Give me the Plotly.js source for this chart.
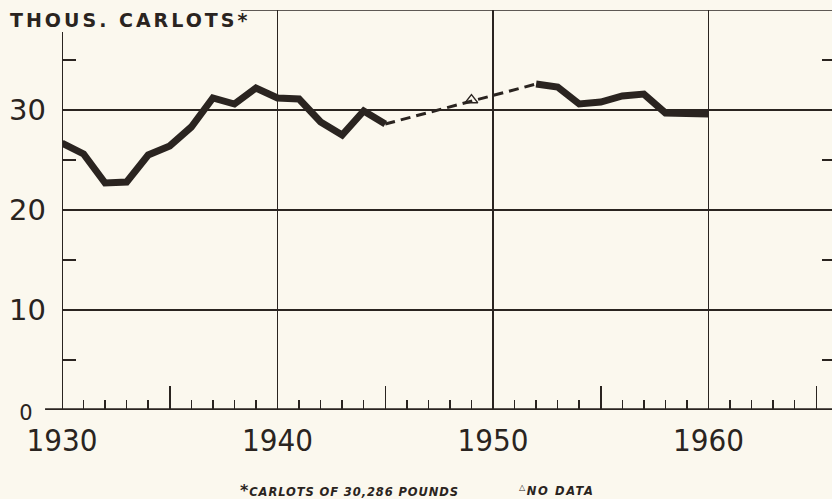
<!DOCTYPE html>
<html>
<head>
<meta charset="utf-8">
<script src="https://cdn.plot.ly/plotly-3.0.1.min.js"></script>
<style>
html,body{margin:0;padding:0;background:#fbf8ee;}
#chart{width:832px;height:499px;}
</style>
</head>
<body>
<div id="chart"></div>
<script>
// Data (thousand carlots)
const years1 = [1930,1931,1932,1933,1934,1935,1936,1937,1938,1939,1940,1941,1942,1943,1944,1945];
const values1 = [26.7,25.6,22.7,22.8,25.5,26.4,28.3,31.2,30.6,32.2,31.2,31.1,28.8,27.5,29.9,28.6];
const years2 = [1952,1953,1954,1955,1956,1957,1958,1959,1960];
const values2 = [32.6,32.3,30.6,30.8,31.4,31.6,29.7,29.6,29.6];
const gapYears = [1945,1952];
const gapValues = [28.6,32.6];
const noDataYear = [1949];
const noDataValue = [31.0];

const xTickVals = [1930,1935,1940,1945,1950,1955,1960,1965];
const xTickText = ['1930','','1940','','1950','','1960',''];
const xGridVals = [1940,1950,1960];
const yTickVals = [0,10,20,30];
const yTickText = ['<span style="font-size:21px">0&nbsp;&nbsp;</span>','10','20','30'];
const yMinorVals = [5,15,25,35];

const ink = '#2a2420';
const bg = '#fbf8ee';
const xRange = [1930,1965.73];
const yRange = [0,40];

const traces = [
  {x: years1, y: values1, mode:'lines', line:{color:ink, width:7}, xaxis:'x', yaxis:'y'},
  {x: years2, y: values2, mode:'lines', line:{color:ink, width:7}, xaxis:'x', yaxis:'y'},
  {x: gapYears, y: gapValues, mode:'lines', line:{color:ink, width:3, dash:'10px,6px'}, xaxis:'x', yaxis:'y'},
  {x: noDataYear, y: noDataValue, mode:'markers', marker:{symbol:'triangle-up-open', size:11, color:ink, line:{width:1.3, color:ink}}, xaxis:'x2', yaxis:'y2'}
];

const layout = {
  width:832, height:499,
  margin:{l:62, r:0, t:10, b:89, pad:0},
  paper_bgcolor:bg, plot_bgcolor:bg,
  showlegend:false, hovermode:false,
  xaxis:{
    range:xRange, tickmode:'array', tickvals:xTickVals, ticktext:xTickText,
    ticks:'inside', ticklen:24, tickwidth:1.5, tickcolor:ink,
    minor:{tickmode:'linear', tick0:1930, dtick:1, ticks:'inside', ticklen:10, tickwidth:1.5, tickcolor:ink, showgrid:false},
    showgrid:false, zeroline:false, showline:false,
    ticklabelstandoff:9,
    tickfont:{family:'"DejaVu Sans Condensed", "DejaVu Sans", sans-serif', size:31, color:ink}
  },
  xaxis2:{
    overlaying:'x', anchor:'y', range:xRange, tickmode:'array', tickvals:xGridVals,
    showticklabels:false, ticks:'', showgrid:true, gridcolor:ink, gridwidth:1.5,
    zeroline:false, showline:false
  },
  yaxis:{
    range:yRange, tickmode:'array', tickvals:yTickVals, ticktext:yTickText,
    ticks:'', showgrid:true, gridcolor:ink, gridwidth:1.5, zeroline:false, showline:false,
    ticklabelstandoff:15,
    minor:{tickmode:'array', tickvals:yMinorVals, ticks:'inside', ticklen:14, tickwidth:1.5, tickcolor:ink, showgrid:false},
    tickfont:{family:'"DejaVu Sans", sans-serif', size:29, color:ink}
  },
  yaxis2:{
    overlaying:'y', anchor:'x', side:'right', range:yRange, tickmode:'array', tickvals:yMinorVals,
    ticks:'inside', ticklen:10, tickwidth:1.5, tickcolor:ink, showticklabels:false,
    showgrid:false, zeroline:false, showline:false
  },
  shapes:[
    {type:'line', xref:'paper', yref:'y', x0:0.232, x1:1, y0:40, y1:40, line:{color:ink, width:1.5}},
    {type:'line', xref:'x', yref:'y', x0:xRange[0], x1:xRange[0], y0:0, y1:37.8, line:{color:ink, width:2}},
    {type:'line', xref:'paper', yref:'y', x0:-0.022, x1:1, y0:0, y1:0, line:{color:ink, width:3.5}}
  ],
  annotations:[
    {xref:'paper', yref:'paper', x:-0.0701, y:0.975, xanchor:'left', yanchor:'middle', showarrow:false,
     text:'<span style="letter-spacing:3px">THOUS. CARLOTS*</span>', font:{family:'"DejaVu Sans", sans-serif', size:19, weight:'bold', color:ink}},
    {xref:'paper', yref:'paper', x:0.3735, y:-0.2, xanchor:'center', yanchor:'middle', showarrow:false,
     text:'<span style="letter-spacing:0.9px"><b style="font-size:16px">*</b>CARLOTS OF 30,286 POUNDS</span>', font:{family:'"DejaVu Sans", sans-serif', size:11.5, weight:'bold', style:'italic', color:ink}},
    {xref:'paper', yref:'paper', x:0.6425, y:-0.2, xanchor:'center', yanchor:'middle', showarrow:false,
     text:'<span style="letter-spacing:1.6px"><sup>△</sup>NO DATA</span>', font:{family:'"DejaVu Sans", sans-serif', size:11.5, weight:'bold', style:'italic', color:ink}}
  ]
};

Plotly.newPlot('chart', traces, layout, {staticPlot:true, displayModeBar:false});
</script>
</body>
</html>
